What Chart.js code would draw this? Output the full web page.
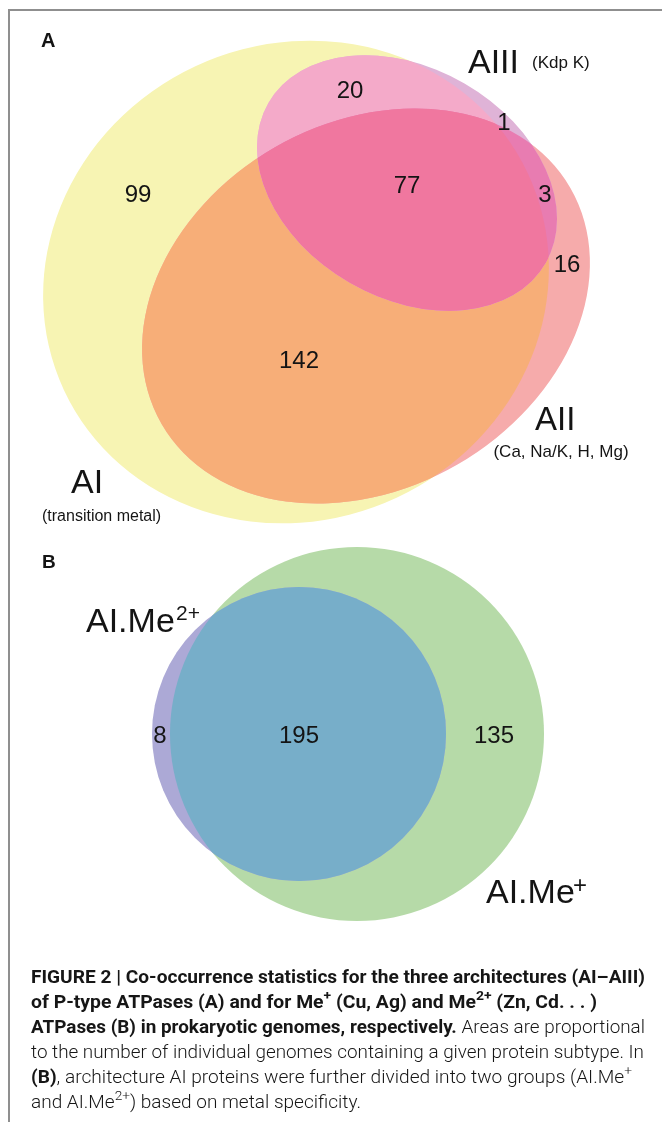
<!DOCTYPE html>
<html>
<head>
<meta charset="utf-8">
<title>Figure 2 – P-type ATPase architectures</title>
<script src="https://cdn.jsdelivr.net/npm/chart.js@4.4.1/dist/chart.umd.min.js"></script>
<style>
  html, body { margin: 0; padding: 0; background: #fff; }
  #wrap { position: relative; width: 662px; height: 1122px; overflow: hidden; }
  #frame { position: absolute; left: 8px; top: 9px; width: 700px; height: 1200px;
           border-top: 2px solid #8f8f8f; border-left: 2px solid #8f8f8f; box-sizing: border-box; }
  #box { position: absolute; left: 0; top: 0; width: 662px; height: 1122px; }
  #caption { position: absolute; left: 31px; top: 964px; color: #161616;
             font-family: Roboto, "Liberation Sans", Arial, sans-serif;
             font-size: 18px; line-height: 25px; white-space: nowrap; }
  #caption .ln { height: 25px; transform-origin: 0 0; }
  #caption .ln > span.t { display: inline-block; }
  #caption b { font-weight: bold; }
  #caption .r { font-weight: 300; }
  #caption sup { font-size: 0.72em; line-height: 0; position: relative; top: -0.05em; font-weight: inherit; }
</style>
</head>
<body>
<div id="wrap">
  <div id="frame"></div>
  <div id="box"><canvas id="venn"></canvas></div>
  <div id="caption">
    <div class="ln" data-w="614"><span class="t"><b>FIGURE 2 | Co-occurrence statistics for the three architectures (AI–AIII)</b></span></div>
    <div class="ln" data-w="566"><span class="t"><b>of P-type ATPases (A) and for Me<sup>+</sup> (Cu, Ag) and Me<sup>2+</sup> (Zn, Cd. . . )</b></span></div>
    <div class="ln" data-w="614"><span class="t"><b>ATPases (B) in prokaryotic genomes, respectively.</b> <span class="r">Areas are proportional</span></span></div>
    <div class="ln" data-w="613"><span class="t"><span class="r">to the number of individual genomes containing a given protein subtype. In</span></span></div>
    <div class="ln" data-w="601"><span class="t"><b>(B)</b><span class="r">, architecture AI proteins were further divided into two groups (AI.Me<sup>+</sup></span></span></div>
    <div class="ln" data-w="330"><span class="t"><span class="r">and AI.Me<sup>2+</sup>) based on metal specificity.</span></span></div>
  </div>
</div>
<script>
// ---- Panel A: genomes per combination of architectures AI / AII / AIII ----
const regionsA = ['AI only', 'AI + AIII', 'AIII only', 'AI + AII + AIII', 'AII + AIII', 'AII only', 'AI + AII'];
const countsA  = [99, 20, 1, 77, 3, 16, 142];

// ---- Panel B: AI proteins split by metal specificity ----
const regionsB = ['AI.Me2+ only', 'AI.Me2+ + AI.Me+', 'AI.Me+ only'];
const countsB  = [8, 195, 135];

// Set names with their substrate notes
const setNamesA = ['AI', 'AII', 'AIII'];
const setNotesA = ['(transition metal)', '(Ca, Na/K, H, Mg)', '(Kdp K)'];
const setNamesB = ['AI.Me', 'AI.Me'];
const setSupsB  = ['2+', '+'];

// ---- layout (drawing units = page pixels, y downward) ----
const shapesA = {
  AI:   { cx: 296, cy: 282, rx: 256, ry: 238, rot: -25 },
  AII:  { cx: 366, cy: 306, rx: 236, ry: 183, rot: -30 },
  AIII: { cx: 407, cy: 183, rx: 160, ry: 115, rot: 30 }
};
const shapesB = {
  Me2: { cx: 299, cy: 734, rx: 147, ry: 147, rot: 0 },
  Me1: { cx: 357, cy: 734, rx: 187, ry: 187, rot: 0 }
};
// fill layers: inside every listed set (drawn in order)
const layersA = [
  { sets: ['AI'],                color: '#F7F4B3' },
  { sets: ['AII'],               color: '#F6ABAB' },
  { sets: ['AI', 'AII'],         color: '#F7AE78' },
  { sets: ['AIII'],              color: '#DFB3D7' },
  { sets: ['AIII', 'AI'],        color: '#F4AAC9' },
  { sets: ['AIII', 'AII'],       color: '#E87CB1' },
  { sets: ['AIII', 'AI', 'AII'], color: '#F0779F' }
];
const layersB = [
  { sets: ['Me1'],        color: '#B6DAA8' },
  { sets: ['Me2'],        color: '#ACA9D6' },
  { sets: ['Me2', 'Me1'], color: '#77AEC9' }
];
const countPosA = [[138, 202], [350, 98], [504, 130], [407, 193], [545, 202], [567, 272], [299, 368]];
const countPosB = [[160, 743], [299, 743], [494, 743]];

const FONT = "'Liberation Sans', Arial, Helvetica, sans-serif";

function ellipsePath(ctx, xs, ys, e) {
  const cx = xs.getPixelForValue(e.cx), cy = ys.getPixelForValue(e.cy);
  const rx = Math.abs(xs.getPixelForValue(e.cx + e.rx) - cx);
  const ry = Math.abs(ys.getPixelForValue(e.cy + e.ry) - cy);
  ctx.beginPath();
  ctx.ellipse(cx, cy, rx, ry, e.rot * Math.PI / 180, 0, Math.PI * 2);
}

function paintLayers(ctx, xs, ys, shapes, layers) {
  layers.forEach(layer => {
    ctx.save();
    layer.sets.slice(1).forEach(name => { ellipsePath(ctx, xs, ys, shapes[name]); ctx.clip(); });
    ellipsePath(ctx, xs, ys, shapes[layer.sets[0]]);
    ctx.fillStyle = layer.color;
    ctx.fill();
    ctx.restore();
  });
}

const vennShapes = {
  id: 'vennShapes',
  beforeDatasetsDraw(chart) {
    const { ctx, scales: { x, y } } = chart;
    paintLayers(ctx, x, y, shapesA, layersA);
    paintLayers(ctx, x, y, shapesB, layersB);
  },
  afterDatasetsDraw(chart) {
    const { ctx, scales: { x, y } } = chart;
    ctx.save();
    ctx.fillStyle = '#141414';
    ctx.textBaseline = 'alphabetic';
    // region counts, placed at each dataset point
    chart.data.datasets.forEach((ds, di) => {
      const meta = chart.getDatasetMeta(di);
      meta.data.forEach((pt, i) => {
        ctx.font = '24px ' + FONT;
        ctx.textAlign = 'center';
        ctx.fillText(String(ds.counts[i]), pt.x, pt.y);
      });
    });
    const px = v => x.getPixelForValue(v), py = v => y.getPixelForValue(v);
    const text = (s, X, Y, size, align, weight) => {
      ctx.font = (weight || '') + ' ' + size + 'px ' + FONT;
      ctx.textAlign = align;
      ctx.fillText(s, px(X), py(Y));
    };
    // panel letters
    text('A', 41, 47, 20, 'left', 'bold');
    text('B', 42, 568, 19, 'left', 'bold');
    // set names, panel A
    text(setNamesA[0], 71, 493, 34, 'left');
    text(setNotesA[0], 42, 521, 16, 'left');
    text(setNamesA[1], 535, 430, 33, 'left');
    text(setNotesA[1], 561, 457, 17, 'center');
    text(setNamesA[2], 468, 73, 34, 'left');
    text(setNotesA[2], 532, 68, 17, 'left');
    // set names, panel B
    text(setNamesB[0], 86, 632, 34, 'left');
    text(setSupsB[0], 176, 620, 21, 'left');
    text(setNamesB[1], 486, 903, 34, 'left');
    text(setSupsB[1], 573, 893, 24, 'left');
    ctx.restore();
  }
};

const toPoints = pos => pos.map(p => ({ x: p[0], y: p[1] }));

new Chart(document.getElementById('venn'), {
  type: 'scatter',
  data: {
    datasets: [
      { label: 'A', data: toPoints(countPosA), counts: countsA, regions: regionsA, pointRadius: 0 },
      { label: 'B', data: toPoints(countPosB), counts: countsB, regions: regionsB, pointRadius: 0 }
    ]
  },
  options: {
    responsive: true,
    maintainAspectRatio: false,
    animation: false,
    layout: { padding: 0 },
    plugins: { legend: { display: false }, tooltip: { enabled: false } },
    scales: {
      x: { type: 'linear', min: 0, max: 662, display: false },
      y: { type: 'linear', min: 0, max: 1122, reverse: true, display: false }
    }
  },
  plugins: [vennShapes]
});

// fit each caption line to its measured column width
document.querySelectorAll('#caption .ln').forEach(ln => {
  const w = ln.querySelector('.t').getBoundingClientRect().width;
  const target = +ln.dataset.w;
  if (w > 0) ln.style.transform = 'scaleX(' + (target / w) + ')';
});
</script>
</body>
</html>
